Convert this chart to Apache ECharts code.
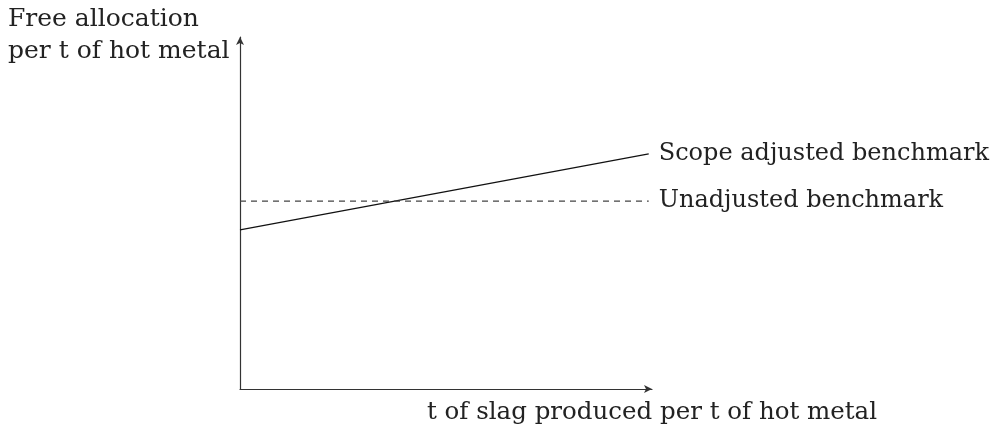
<!DOCTYPE html>
<html><head><meta charset="utf-8">
<script src="https://cdn.jsdelivr.net/npm/echarts@6/dist/echarts.min.js"></script>
<style>html,body{margin:0;padding:0;background:#fff}#c{width:998px;height:428px}</style>
</head><body><div id="c"></div>
<script>
const xValues = [0, 10];
const scopeAdjusted = [4.52, 6.68];
const unadjusted = [5.34, 5.34];
const seriesNames = ['Scope adjusted benchmark', 'Unadjusted benchmark'];
const yTitle = 'Free allocation\nper t of hot metal';
const xTitle = 't of slag produced per t of hot metal';

const FONT = 'DejaVu Serif';
const FS = 24;
const chart = echarts.init(document.getElementById('c'), null, {renderer: 'canvas'});
const axisLine = {show: true, onZero: false, symbol: ['none', 'arrow'], symbolSize: [6, 8], lineStyle: {color: '#333', width: 1.2}};
chart.setOption({
  animation: false,
  backgroundColor: '#fff',
  grid: {left: 240, top: 37, width: 412, height: 352, containLabel: false},
  graphic: [{type: 'text', left: 8, top: 3, style: {text: yTitle, font: '25px "' + FONT + '"', lineHeight: 32, fill: '#222'}}],
  xAxis: {type: 'value', min: 0, max: 10.08, axisLine, axisTick: {show: false}, axisLabel: {show: false}, splitLine: {show: false},
    name: xTitle, nameLocation: 'end', nameGap: 0,
    nameTextStyle: {fontFamily: FONT, fontSize: 24.5, color: '#222', align: 'center', verticalAlign: 'top', padding: [11, 0, 0, 0]}},
  yAxis: {type: 'value', min: 0, max: 10, axisLine, axisTick: {show: false}, axisLabel: {show: false}, splitLine: {show: false}},
  series: [
    {name: seriesNames[0], type: 'line', data: xValues.map((x, i) => [x, scopeAdjusted[i]]), symbol: 'none',
      lineStyle: {color: '#111', width: 1.2},
      endLabel: {show: true, formatter: seriesNames[0], distance: 10, fontFamily: FONT, fontSize: FS, color: '#222'}},
    {name: seriesNames[1], type: 'line', data: xValues.map((x, i) => [x, unadjusted[i]]), symbol: 'none',
      lineStyle: {color: '#444', width: 1.2, type: [6, 5]},
      endLabel: {show: true, formatter: seriesNames[1], distance: 10, fontFamily: FONT, fontSize: FS, color: '#222'}}
  ]
});
</script></body></html>
